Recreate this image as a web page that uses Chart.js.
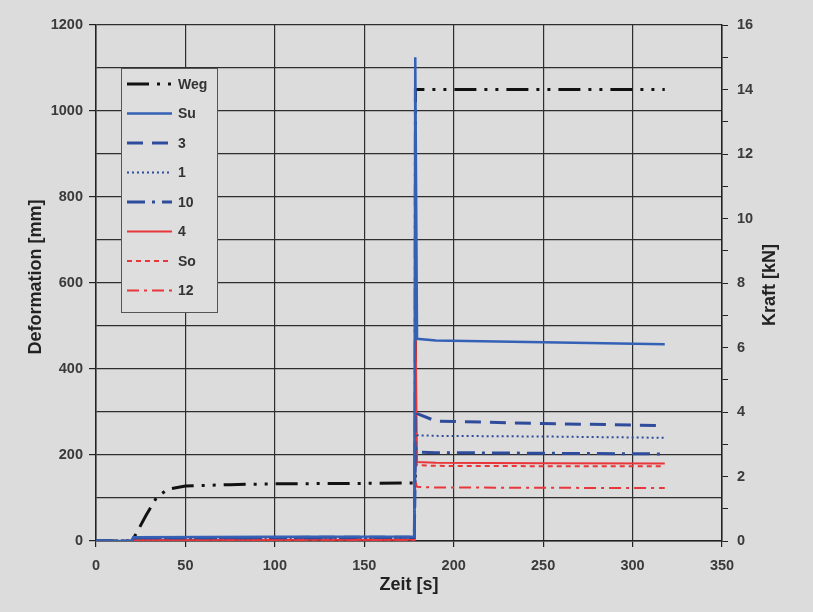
<!DOCTYPE html>
<html>
<head>
<meta charset="utf-8">
<script src="https://cdn.jsdelivr.net/npm/chart.js@4.4.1/dist/chart.umd.min.js"></script>
<style>
  html, body { margin: 0; padding: 0; background: #dcdcdc; }
  canvas { display: block; }
</style>
</head>
<body>
<canvas id="kraftChart" width="813" height="612"></canvas>
<script>
// Weg (Deformation in mm, linke Achse)
const wegZeit = [0, 20, 23, 28, 34, 40, 50, 75, 100, 150, 178.5, 178.6, 318];
const weg     = [0, 0, 21, 60, 102, 120, 128, 131, 133, 134, 135, 1050, 1050];

// Kräfte in kN (rechte Achse), gemeinsame Zeitpunkte
const zeit = [0, 20, 21, 100, 178, 178.5, 179.5, 190, 250, 318];
const su   = [0, 0, 0.12, 0.13, 0.14, 15.0, 6.27, 6.22, 6.16, 6.1];
const s3   = [0, 0, 0.1, 0.11, 0.12, 4.05, 3.95, 3.72, 3.64, 3.58];
const s1   = [0, 0, 0.08, 0.09, 0.1, 3.4, 3.28, 3.26, 3.24, 3.2];
const s10  = [0, 0, 0.1, 0.1, 0.11, 2.9, 2.76, 2.74, 2.72, 2.7];
const s4   = [0, 0, 0.03, 0.04, 0.05, 7.4, 2.45, 2.43, 2.41, 2.4];
const so   = [0, 0, 0.02, 0.03, 0.04, 2.6, 2.35, 2.33, 2.32, 2.32];
const s12  = [0, 0, 0.02, 0.02, 0.03, 1.85, 1.68, 1.66, 1.65, 1.64];

const xy = (xs, ys) => xs.map((x, i) => ({ x: x, y: ys[i] }));

const blau = '#3461b5';
const dunkelblau = '#2f4c9c';
const rot = '#e8363a';

function serie(label, xs, ys, color, dash, width, axis, order) {
  return {
    label: label, data: xy(xs, ys), yAxisID: axis, order: order,
    borderColor: color, backgroundColor: color, borderDash: dash,
    borderWidth: width, pointRadius: 0, tension: 0, fill: false
  };
}

// Legende im Diagramm
const boxLegend = {
  id: 'boxLegend',
  afterDatasetsDraw(chart) {
    const ctx = chart.ctx;
    const x0 = 121, y0 = 68, w = 96, h = 244;
    ctx.save();
    ctx.fillStyle = '#dedede';
    ctx.fillRect(x0, y0, w, h);
    ctx.strokeStyle = '#555';
    ctx.lineWidth = 1;
    ctx.strokeRect(x0 + 0.5, y0 + 0.5, w, h);
    ctx.font = 'bold 14px "Liberation Sans", Arial, sans-serif';
    ctx.textBaseline = 'middle';
    chart.data.datasets.forEach((ds, i) => {
      const y = 84 + i * 29.5;
      ctx.strokeStyle = ds.borderColor;
      ctx.lineWidth = ds.borderWidth;
      ctx.setLineDash(ds.borderDash || []);
      ctx.beginPath();
      ctx.moveTo(127, y);
      ctx.lineTo(172, y);
      ctx.stroke();
      ctx.setLineDash([]);
      ctx.fillStyle = '#333';
      ctx.fillText(ds.label, 178, y + 1);
    });
    ctx.restore();
  }
};

// Achsentitel
const titel = {
  id: 'titel',
  afterDraw(chart) {
    const ctx = chart.ctx;
    const a = chart.chartArea;
    const mid = (a.top + a.bottom) / 2;
    ctx.save();
    ctx.fillStyle = '#222';
    ctx.font = 'bold 18px "Liberation Sans", Arial, sans-serif';
    ctx.textAlign = 'center';
    ctx.textBaseline = 'middle';
    ctx.fillText('Zeit [s]', (a.left + a.right) / 2, 585);
    ctx.translate(36, mid - 6);
    ctx.rotate(-Math.PI / 2);
    ctx.fillText('Deformation [mm]', 0, 0);
    ctx.restore();
    ctx.save();
    ctx.fillStyle = '#222';
    ctx.font = 'bold 18px "Liberation Sans", Arial, sans-serif';
    ctx.textAlign = 'center';
    ctx.textBaseline = 'middle';
    ctx.translate(770, mid + 2);
    ctx.rotate(-Math.PI / 2);
    ctx.fillText('Kraft [kN]', 0, 0);
    ctx.restore();
  }
};

const tickFont = { family: '"Liberation Sans", Arial, sans-serif', size: 14.5, weight: 'bold' };
const tickColor = '#3a3a3a';
const gitter = '#2e2e2e';

new Chart(document.getElementById('kraftChart'), {
  type: 'line',
  data: {
    datasets: [
      serie('Weg', wegZeit, weg, '#111', [22, 8, 3, 8, 3, 8], 3, 'y', 9),
      serie('Su', zeit, su, blau, [], 2.5, 'y1', 1),
      serie('3', zeit, s3, dunkelblau, [16, 9], 3, 'y1', 2),
      serie('1', zeit, s1, dunkelblau, [2, 3], 2, 'y1', 3),
      serie('10', zeit, s10, dunkelblau, [18, 7, 3, 7], 3, 'y1', 4),
      serie('4', zeit, s4, rot, [], 2, 'y1', 5),
      serie('So', zeit, so, rot, [5, 4], 2, 'y1', 6),
      serie('12', zeit, s12, rot, [12, 5, 3, 5], 2, 'y1', 7)
    ]
  },
  options: {
    responsive: false,
    animation: false,
    layout: { padding: { top: 25, left: 0, right: 0, bottom: 0 }, autoPadding: false },
    plugins: { legend: { display: false }, tooltip: { enabled: false } },
    scales: {
      x: {
        type: 'linear', min: 0, max: 350,
        ticks: { stepSize: 50, font: tickFont, color: tickColor, padding: 10, maxRotation: 0 },
        grid: { color: gitter, lineWidth: 1.2, tickLength: 6, tickColor: '#222' },
        border: { color: '#222', width: 1.5 },
        afterFit: s => { s.height = 71; }
      },
      y: {
        position: 'left', min: 0, max: 1200,
        ticks: { stepSize: 100, font: tickFont, color: tickColor, padding: 6,
          callback: v => (v % 200 === 0 ? v : '') },
        grid: { color: gitter, lineWidth: 1.2, tickLength: 7,
          tickColor: c => (c.tick && c.tick.value % 200 === 0 ? '#222' : 'rgba(0,0,0,0)') },
        border: { color: '#222', width: 1.5 },
        afterFit: s => { s.width = 96; }
      },
      y1: {
        position: 'right', min: 0, max: 16,
        ticks: { stepSize: 1, font: tickFont, color: tickColor, padding: 9,
          callback: v => (v % 2 === 0 ? v : '') },
        grid: { drawOnChartArea: false, tickLength: 6, tickColor: '#222' },
        border: { color: '#222', width: 1.5 },
        afterFit: s => { s.width = 91; }
      }
    }
  },
  plugins: [boxLegend, titel]
});
</script>
</body>
</html>
